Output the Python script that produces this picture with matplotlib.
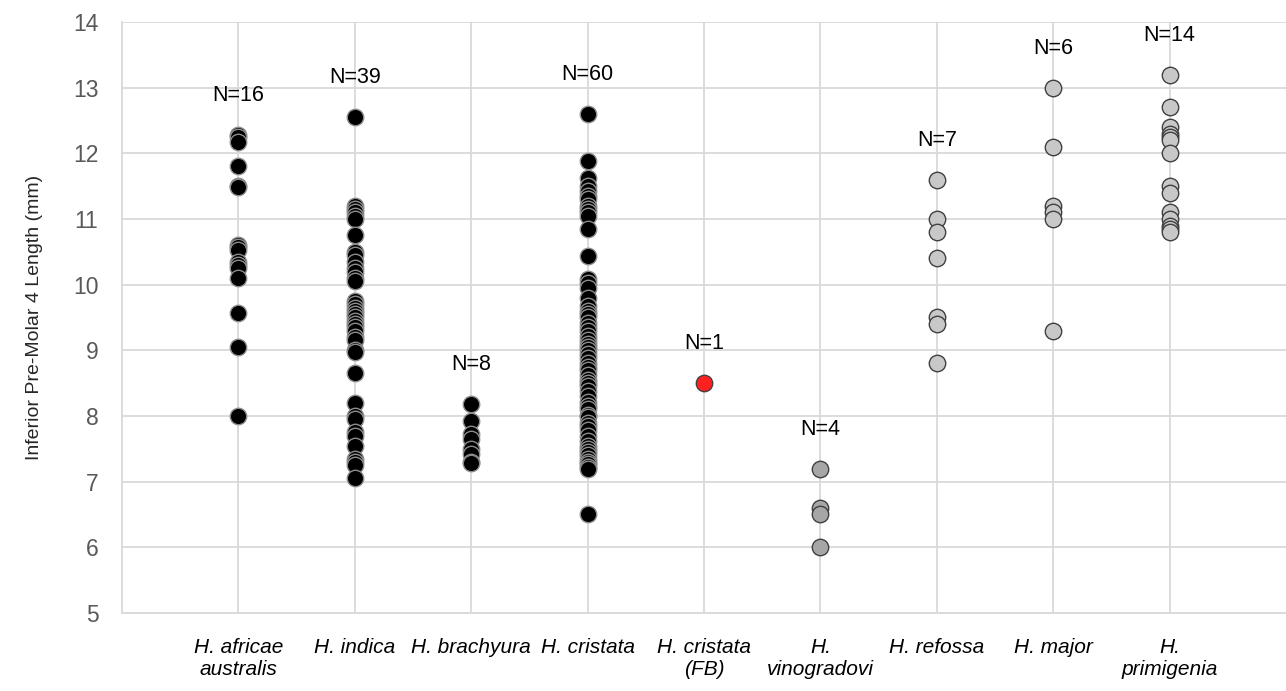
import numpy as np
import matplotlib.pyplot as plt

# species labels (x axis)
species = ["H. africae\naustralis", "H. indica", "H. brachyura", "H. cristata",
           "H. cristata\n(FB)", "H.\nvinogradovi", "H. refossa", "H. major",
           "H.\nprimigenia"]

africae = [12.28, 12.25, 12.17, 11.8, 11.5, 11.48, 10.6, 10.57, 10.53, 10.35,
           10.3, 10.25, 10.1, 9.57, 9.05, 8.0]
indica = [12.55, 11.2, 11.15, 11.1, 11.05, 11.0, 10.75, 10.5, 10.45, 10.35,
          10.25, 10.2, 10.1, 10.05, 9.75, 9.7, 9.65, 9.6, 9.55, 9.5, 9.45, 9.4,
          9.35, 9.3, 9.2, 9.15, 9.0, 8.98, 8.65, 8.2, 8.0, 7.95, 7.75, 7.7, 7.55,
          7.35, 7.3, 7.25, 7.05]
brachyura = [8.18, 7.93, 7.72, 7.65, 7.5, 7.42, 7.3, 7.28]
cristata = [12.6, 11.88, 11.62, 11.5, 11.42, 11.35, 11.3, 11.2, 11.15, 11.1,
            11.05, 10.85, 10.43, 10.08, 10.02, 9.95, 9.8, 9.68, 9.6, 9.55, 9.5,
            9.42, 9.35, 9.3, 9.22, 9.15, 9.1, 9.05, 9.0, 8.95, 8.88, 8.8, 8.75,
            8.7, 8.62, 8.55, 8.5, 8.45, 8.38, 8.3, 8.22, 8.15, 8.1, 8.02, 7.98,
            7.9, 7.85, 7.78, 7.7, 7.62, 7.55, 7.5, 7.45, 7.4, 7.35, 7.3, 7.27,
            7.22, 7.2, 6.5]
cristata_fb = [8.5]
vinogradovi = [7.2, 6.6, 6.5, 6.0]
refossa = [11.6, 11.0, 10.8, 10.4, 9.5, 9.4, 8.8]
major = [13.0, 12.1, 11.2, 11.1, 11.0, 9.3]
primigenia = [13.2, 12.7, 12.4, 12.3, 12.25, 12.2, 12.0, 11.5, 11.4, 11.1,
              11.0, 10.9, 10.85, 10.8]

groups = [africae, indica, brachyura, cristata, cristata_fb, vinogradovi,
          refossa, major, primigenia]
face = ["black"] * 4 + ["#ff2020", "#a6a6a6", "#c8c8c8", "#c8c8c8", "#c8c8c8"]
edge = ["#8c8c8c"] * 4 + ["#404040"] * 5

plt.rcParams['font.family'] = ['Liberation Sans', 'DejaVu Sans']

fig = plt.figure(figsize=(12.86, 6.91), dpi=100)
ax = fig.add_axes([0.0949, 0.1129, 0.9051, 0.8553])

for i, vals in enumerate(groups):
    x = np.full(len(vals), i + 1)
    ax.scatter(x, vals, s=140, c=face[i], edgecolors=edge[i], linewidths=1.0,
               zorder=3)
    ax.text(i + 1, max(vals) + 0.6, "N=%d" % len(vals), ha="center",
            va="center", fontsize=15.5, color="black")

ax.set_xlim(0, 10)
ax.set_ylim(5, 14)
ax.set_yticks(range(5, 15))
ax.set_xticks(range(1, 10))
ax.set_xticklabels(species, fontstyle="italic", fontsize=15,
                   linespacing=1.2)
ax.tick_params(axis="y", length=0, pad=17, labelsize=16.5, labelcolor="#595959")
ax.tick_params(axis="x", length=0, pad=18)
ax.grid(True, color="#d9d9d9", linewidth=1.3, zorder=0)
ax.set_axisbelow(True)
for sp in ["top", "right"]:
    ax.spines[sp].set_visible(False)
for sp in ["left", "bottom"]:
    ax.spines[sp].set_color("#d9d9d9")
    ax.spines[sp].set_linewidth(1.3)

ax.set_ylabel("Inferior Pre-Molar 4 Length (mm)", fontsize=14, color="#262626")
ax.yaxis.set_label_coords(-0.068, 0.5)

plt.savefig("out.png", dpi=100)
